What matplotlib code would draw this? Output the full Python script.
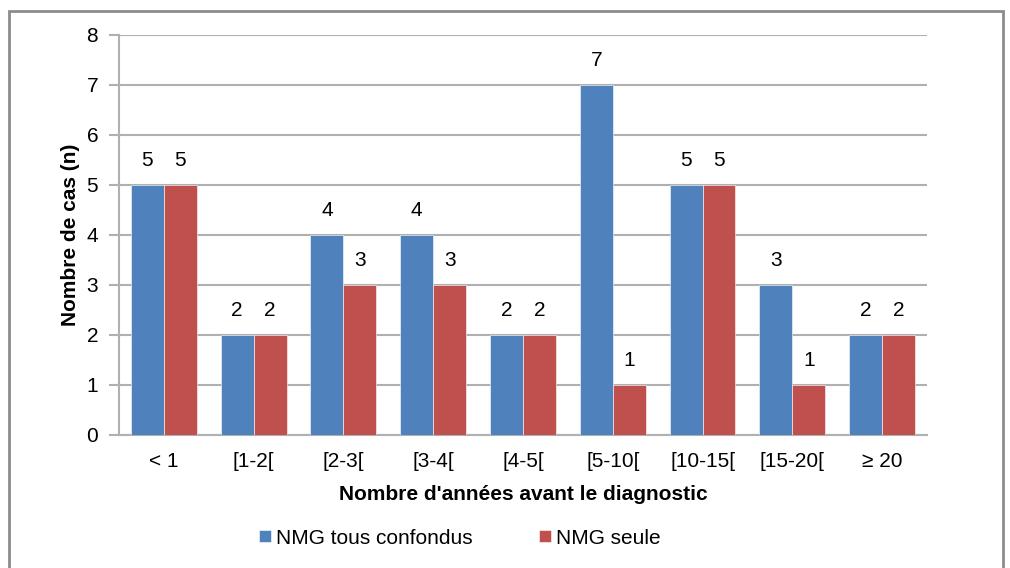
import matplotlib
matplotlib.use("Agg")
import matplotlib.pyplot as plt
from matplotlib.patches import Rectangle
import numpy as np

plt.rcParams['font.family'] = ['Liberation Sans', 'DejaVu Sans']

categories = ["< 1", "[1-2[", "[2-3[", "[3-4[", "[4-5[", "[5-10[", "[10-15[", "[15-20[", "≥ 20"]
tous_confondus = [5, 2, 4, 4, 2, 7, 5, 3, 2]
seule = [5, 2, 3, 3, 2, 1, 5, 1, 2]

blue = "#4F81BD"
red = "#C0504D"
grid_col = "#B0B0B0"
fs = 15

fig = plt.figure(figsize=(10.1, 5.68), dpi=100)
ax = fig.add_axes([0.1178, 0.2342, 0.8, 0.7042])

x = np.arange(len(categories))
w = 0.367
b1 = ax.bar(x - w / 2, tous_confondus, w, color=blue, edgecolor="white", linewidth=0.4,
            label="NMG tous confondus", zorder=3)
b2 = ax.bar(x + w / 2, seule, w, color=red, edgecolor="white", linewidth=0.4,
            label="NMG seule", zorder=3)

# valeurs au-dessus des barres
for bars, vals in ((b1, tous_confondus), (b2, seule)):
    for r, v in zip(bars, vals):
        ax.annotate(str(v), (r.get_x() + r.get_width() / 2, v), xytext=(0, 11),
                    textcoords="offset points", ha="center", va="bottom", fontsize=fs)

ax.set_xlim(-0.5, len(categories) - 0.5)
ax.set_ylim(0, 8)
ax.set_yticks(range(0, 9))
ax.yaxis.grid(True, color=grid_col, linewidth=1.5, zorder=0)
ax.set_xticks(x)
ax.set_xticklabels(categories)
ax.tick_params(axis="x", length=0, pad=12, labelsize=fs)
ax.tick_params(axis="y", length=7, width=1.5, color=grid_col, pad=8, labelsize=fs)

for s in ("top", "right"):
    ax.spines[s].set_visible(False)
for s in ("left", "bottom"):
    ax.spines[s].set_color(grid_col)
    ax.spines[s].set_linewidth(1.5)

ax.set_xlabel("Nombre d'années avant le diagnostic", fontsize=fs, fontweight="bold", va="center")
ax.set_ylabel("Nombre de cas (n)", fontsize=fs, fontweight="bold", va="center")
ax.xaxis.set_label_coords(0.5, -0.15)
ax.yaxis.set_label_coords(-0.0606, 0.5)

fig.legend(handles=[b1, b2], loc="center", bbox_to_anchor=(460 / 1010, 1 - 538 / 568),
           ncol=2, frameon=False, fontsize=fs, handlelength=0.55, handleheight=0.55,
           handletextpad=0.25, columnspacing=3.2)

# cadre autour du graphique
fig.patches.append(Rectangle((9 / 1010, -0.1), 994 / 1010, 1.1 - 11 / 568,
                             transform=fig.transFigure, fill=False,
                             edgecolor="#8C8C8C", linewidth=2))

fig.savefig("out.png", dpi=100)
